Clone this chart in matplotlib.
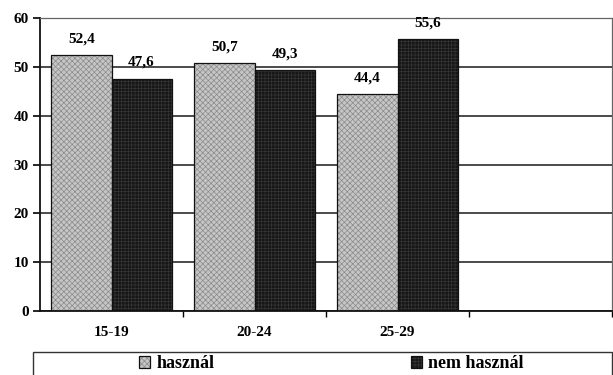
import matplotlib.pyplot as plt
import numpy as np
from matplotlib.patches import Rectangle
from matplotlib.legend_handler import HandlerTuple

# Age groups (the fourth slot on the axis is left empty)
categories = ["15-19", "20-24", "25-29"]
n_slots = 4
hasznal = [52.4, 50.7, 44.4]
nem_hasznal = [47.6, 49.3, 55.6]
series_names = ["használ", "nem használ"]
yticks = [0, 10, 20, 30, 40, 50, 60]

plt.rcParams['font.family'] = ['Liberation Serif', 'DejaVu Serif']
plt.rcParams['font.weight'] = 'bold'
plt.rcParams['hatch.linewidth'] = 0.5

W, H = 613, 375
fig = plt.figure(figsize=(W / 100, H / 100), dpi=100)
ax = fig.add_axes([40 / W, 1 - 311 / H, 572 / W, 293 / H])

x = np.arange(len(categories))
w = 0.42


def textured_bars(xpos, values, face, hatch, hatch_color):
    fill = ax.bar(xpos, values, w, color=face, hatch=hatch,
                  edgecolor=hatch_color, linewidth=0, zorder=2)
    outline = ax.bar(xpos, values, w, fill=False, edgecolor='#111111',
                     linewidth=0.9, zorder=3)
    return fill, outline


g_fill, g_out = textured_bars(x - w / 2, hasznal, '#c6c6c6', 'xxxxxx', '#8a8a8a')
d_fill, d_out = textured_bars(x + w / 2, nem_hasznal, '#161616', '+++++', '#353535')


def fmt(v):
    return f"{v:.1f}".replace('.', ',')


for xs, vals in ((x - w / 2, hasznal), (x + w / 2, nem_hasznal)):
    for xi, v in zip(xs, vals):
        ax.annotate(fmt(v), (xi, v), xytext=(0, 7), textcoords='offset points',
                    ha='center', va='bottom', fontsize=11, fontweight='bold')

ax.set_xlim(-0.5, n_slots - 0.5)
ax.set_ylim(0, 60)
ax.set_yticks(yticks)
ax.tick_params(axis='y', length=5, width=1.2, pad=3, labelsize=11)
ax.set_xticks(x)
ax.set_xticklabels(categories)
ax.tick_params(axis='x', which='major', length=0, pad=11, labelsize=11)
ax.set_xticks(np.arange(n_slots) + 0.5, minor=True)
ax.tick_params(axis='x', which='minor', length=4, width=1.0)

ax.yaxis.grid(True, color='#1a1a1a', linewidth=1.1)
ax.get_ygridlines()[-1].set_visible(False)
ax.set_axisbelow(True)

for side in ('left', 'bottom'):
    ax.spines[side].set_color('#111111')
    ax.spines[side].set_linewidth(1.3)
for side in ('top', 'right'):
    ax.spines[side].set_color('#666666')
    ax.spines[side].set_linewidth(0.9)
    ax.spines[side].set_linestyle((0, (1, 1)))

# Legend frame across the bottom, each entry centred in its half
fig.patches.append(Rectangle((33 / W, -0.05), (612 - 33) / W, 0.05 + 1 - 352 / H,
                             transform=fig.transFigure, fill=False,
                             edgecolor='#333333', linewidth=1.0))
for handle, name, cx in (((g_fill, g_out), series_names[0], 177),
                         ((d_fill, d_out), series_names[1], 467)):
    fig.legend([handle], [name], loc='center', bbox_to_anchor=(cx / W, 1 - 364 / H),
               frameon=False, handlelength=0.6, handleheight=0.6,
               handletextpad=0.35, borderpad=0,
               handler_map={tuple: HandlerTuple(ndivide=1, pad=0)},
               prop={'weight': 'bold', 'size': 13})

fig.savefig('out.png', dpi=100)
